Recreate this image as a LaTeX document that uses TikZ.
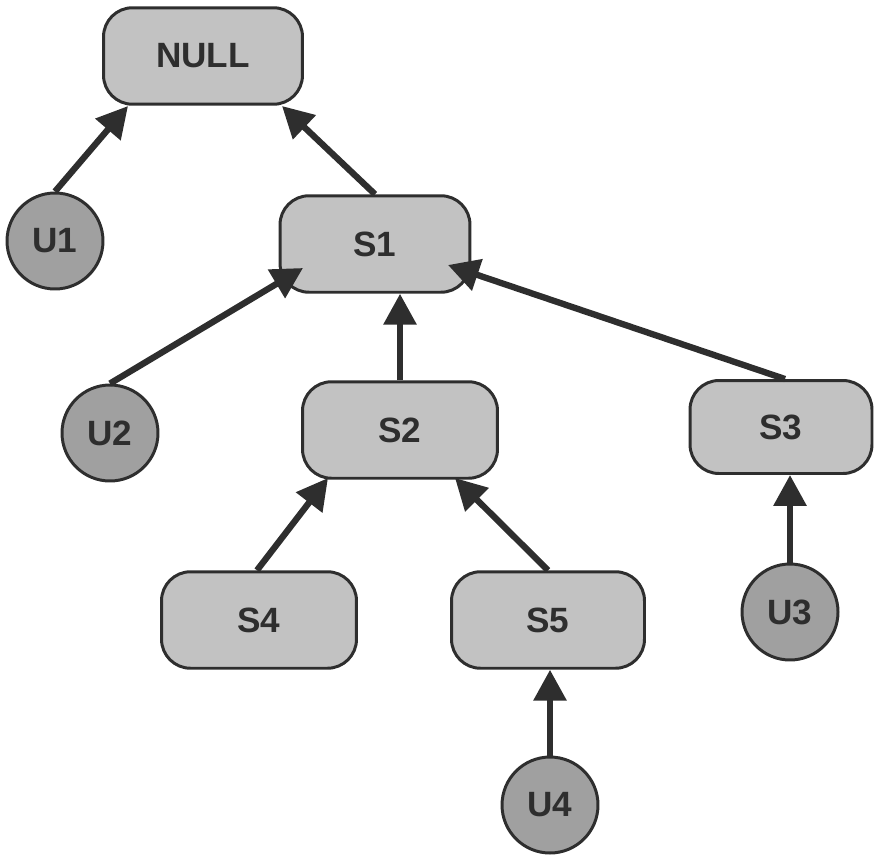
\documentclass[tikz,border=0pt]{standalone}
\usepackage{fontspec}
\setmainfont{Liberation Sans}
\usetikzlibrary{arrows.meta,calc}
\definecolor{boxgray}{HTML}{C2C2C2}
\definecolor{dotgray}{HTML}{A0A0A0}
\definecolor{inkgray}{HTML}{2E2E2E}
\begin{document}
\begin{tikzpicture}[x=0.02cm,y=-0.02cm,
    font=\fontsize{20}{24}\selectfont\bfseries,
    every node/.style={draw=inkgray,line width=1.7pt,text=inkgray},
    sbox/.style={fill=boxgray,rounded corners=0.58cm,minimum width=3.9cm,minimum height=1.93cm},
    ucirc/.style={circle,fill=dotgray,minimum size=1.92cm,inner sep=0pt},
    link/.style={draw=inkgray,line width=3.6pt,-{Triangle[length=0.62cm,width=0.64cm]}}]
      \useasboundingbox (0,0) rectangle (874,855);
      \draw
        (203,56) node[sbox,minimum width=3.98cm] (null){NULL}
        (375,244) node[sbox,minimum width=3.8cm] (s1){S1}
        (400,430) node[sbox] (s2){S2}
        (781,427) node[sbox,minimum width=3.64cm,minimum height=1.86cm] (s3){S3}
        (259,620) node[sbox] (s4){S4}
        (548,620) node[sbox,minimum width=3.86cm] (s5){S5}
        (55,241) node[ucirc] (u1){U1}
        (110,433) node[ucirc] (u2){U2}
        (790,612) node[ucirc] (u3){U3}
        (550,805) node[ucirc] (u4){U4};
      \begin{scope}[link]
        \draw (u1.north) to ($(null.center)+(-75,50)$);
        \draw (s1.north) to ($(null.center)+(79,50)$);
        \draw (u2.north) to ($(s1.center)+(-72,24)$);
        \draw (s2.north) to (s2.north |- s1.south);
        \draw ([xshift=0.08cm]s3.north) to ($(s1.center)+(73,21)$);
        \draw ([xshift=-0.04cm]s4.north) to ($(s2.center)+(-72,48)$);
        \draw (s5.north) to ($(s2.center)+(55,48)$);
        \draw (u3.north) to (u3.north |- s3.south);
        \draw (u4.north) to (u4.north |- s5.south);
      \end{scope}
    \end{tikzpicture}
\end{document}
